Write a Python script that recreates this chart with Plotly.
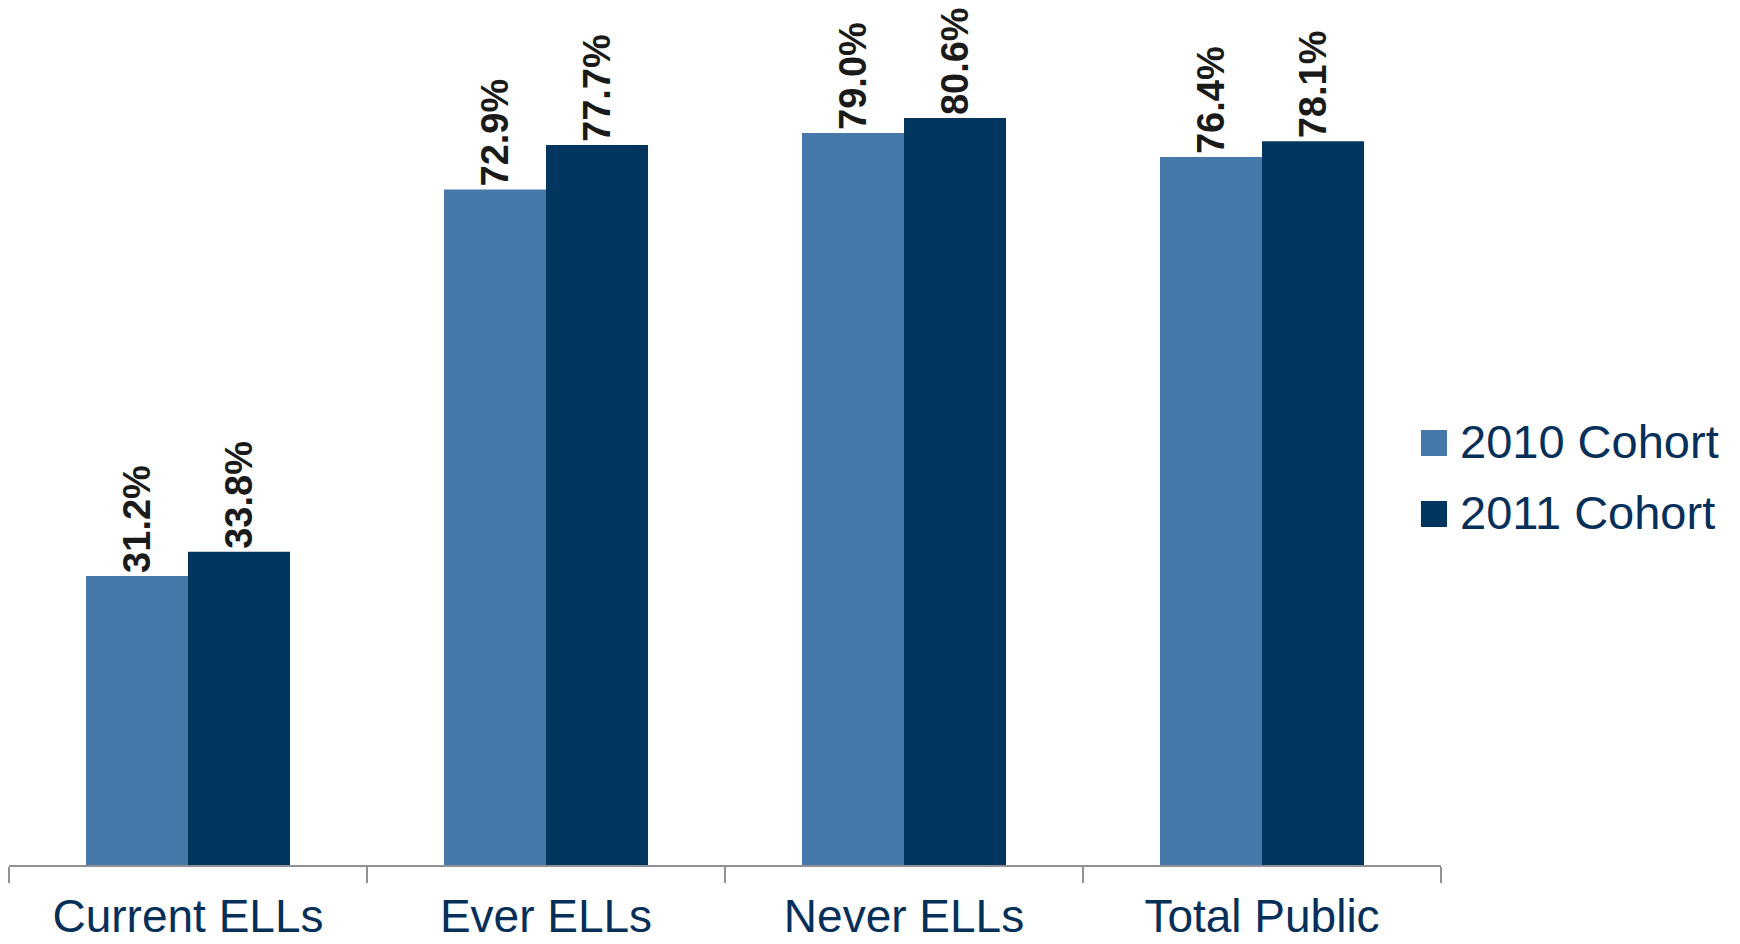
import plotly.graph_objects as go

categories = ["Current ELLs", "Ever ELLs", "Never ELLs", "Total Public"]
series_names = ["2010 Cohort", "2011 Cohort"]
values_2010 = [31.2, 72.9, 79.0, 76.4]
values_2011 = [33.8, 77.7, 80.6, 78.1]
colors = ["#4678A9", "#02365F"]

FONT = "Arial, Liberation Sans, sans-serif"
NAVY = "#06305A"

fig = go.Figure()
for name, vals, col in zip(series_names, [values_2010, values_2011], colors):
    fig.add_trace(go.Bar(
        x=categories, y=vals, name=name,
        marker=dict(color=col, line=dict(width=0)),
        text=[f"{v:.1f}%" for v in vals],
        textposition="outside", textangle=-90,
        textfont=dict(family=FONT, size=38, color="#1a1a1a", weight="bold"),
        constraintext="none", cliponaxis=False,
        showlegend=False, hoverinfo="skip",
    ))

# manual legend (large squares like the reference)
legend_rows = [(0.4904, 0.5216, 0.508), (0.4053, 0.4365, 0.423)]
for (y0, y1, yc), name, col in zip(legend_rows, series_names, colors):
    fig.add_shape(type="rect", xref="paper", yref="paper",
                  x0=0.9860, x1=1.0042, y0=y0, y1=y1,
                  fillcolor=col, line=dict(width=0))
    fig.add_annotation(xref="paper", yref="paper", x=1.0119, y=yc,
                       xanchor="left", yanchor="middle", showarrow=False,
                       text=name, font=dict(family=FONT, size=47, color=NAVY))

fig.update_layout(
    width=1740, height=944, autosize=False,
    margin=dict(l=9, r=299, t=31, b=79, pad=0),
    paper_bgcolor="white", plot_bgcolor="white",
    barmode="group", bargap=0.43, bargroupgap=0,
    showlegend=False, hovermode=False,
)
fig.update_xaxes(
    type="category", automargin=False,
    showline=True, linecolor="#8E9197", linewidth=2,
    ticks="outside", tickson="boundaries", ticklen=16, tickwidth=2,
    tickcolor="#8E9197", showgrid=False, zeroline=False,
    tickfont=dict(family=FONT, size=46, color=NAVY),
    ticklabelstandoff=10,
)
fig.update_yaxes(visible=False, automargin=False, range=[0, 90],
                 showgrid=False, zeroline=False)

fig.write_html(
    "out.html",
    config={"displayModeBar": False, "staticPlot": True},
    post_script="document.body.style.margin='0px';document.body.style.overflow='hidden';",
)
